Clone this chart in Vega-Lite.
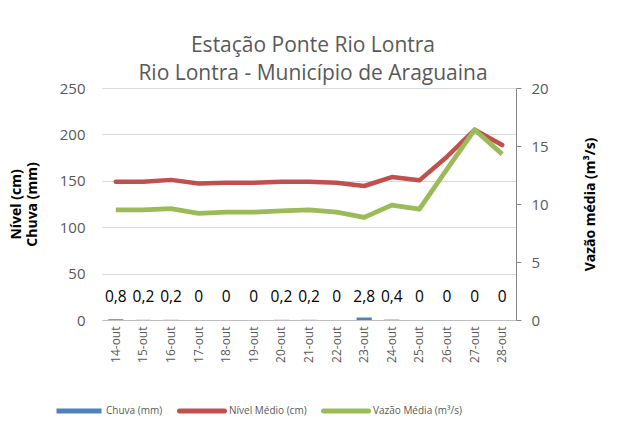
{
  "$schema": "https://vega.github.io/schema/vega-lite/v6.json",
  "width": 414,
  "height": 232,
  "autosize": {"type": "none"},
  "padding": {"left": 102, "top": 88, "right": 103, "bottom": 110},
  "background": "white",
  "config": {
    "font": "Open Sans",
    "view": {"stroke": null},
    "locale": {"number": {"decimal": ",", "thousands": ".", "grouping": [3], "currency": ["R$", ""]}}
  },
  "title": {
    "text": ["Estação Ponte Rio Lontra", "Rio Lontra - Município de Araguaina"],
    "fontSize": 21,
    "fontWeight": "normal",
    "color": "#595959",
    "font": "Open Sans",
    "lineHeight": 28,
    "anchor": "middle",
    "offset": -3,
    "dx": 4
  },
  "data": {
    "values": [
      {"data": "14-out", "chuva": 0.8, "nivel": 149, "vazao": 9.5},
      {"data": "15-out", "chuva": 0.2, "nivel": 149, "vazao": 9.5},
      {"data": "16-out", "chuva": 0.2, "nivel": 151, "vazao": 9.6},
      {"data": "17-out", "chuva": 0, "nivel": 147, "vazao": 9.2},
      {"data": "18-out", "chuva": 0, "nivel": 148, "vazao": 9.3},
      {"data": "19-out", "chuva": 0, "nivel": 148, "vazao": 9.3},
      {"data": "20-out", "chuva": 0.2, "nivel": 149, "vazao": 9.4},
      {"data": "21-out", "chuva": 0.2, "nivel": 149, "vazao": 9.5},
      {"data": "22-out", "chuva": 0, "nivel": 148, "vazao": 9.3},
      {"data": "23-out", "chuva": 2.8, "nivel": 144.4, "vazao": 8.85},
      {"data": "24-out", "chuva": 0.4, "nivel": 154, "vazao": 9.9},
      {"data": "25-out", "chuva": 0, "nivel": 150.5, "vazao": 9.55},
      {"data": "26-out", "chuva": 0, "nivel": 176, "vazao": 13.0},
      {"data": "27-out", "chuva": 0, "nivel": 205, "vazao": 16.4},
      {"data": "28-out", "chuva": 0, "nivel": 188.5, "vazao": 14.3}
    ]
  },
  "encoding": {
    "x": {
      "field": "data",
      "type": "ordinal",
      "sort": null,
      "scale": {"paddingInner": 0, "paddingOuter": 0},
      "axis": {
        "title": null,
        "labelAngle": -90,
        "labelFontSize": 12,
        "labelColor": "#595959",
        "labelPadding": 6,
        "ticks": false,
        "domainColor": "#bfbfbf",
        "grid": false
      }
    }
  },
  "layer": [
    {
      "encoding": {
        "y": {
          "type": "quantitative",
          "scale": {"domain": [0, 250], "nice": false},
          "axis": {
            "values": [0, 50, 100, 150, 200, 250],
            "grid": true,
            "gridColor": "#d9d9d9",
            "domain": false,
            "ticks": false,
            "labelFontSize": 15,
            "labelColor": "#595959",
            "labelPadding": 17,
            "title": ["Nível (cm)", "Chuva (mm)"],
            "titleFontSize": 14,
            "titleFontWeight": "bold",
            "titleColor": "#000000",
            "titlePadding": 20,
            "titleLineHeight": 16
          }
        }
      },
      "layer": [
        {
          "mark": {"type": "bar", "width": {"band": 0.55}},
          "encoding": {
            "y": {"field": "chuva", "type": "quantitative"},
            "color": {
              "datum": "Chuva (mm)",
              "type": "nominal",
              "scale": {
                "domain": ["Chuva (mm)", "Nível Médio (cm)", "Vazão Média (m³/s)"],
                "range": ["#4f81bd", "#c0504d", "#9bbb59"]
              },
              "legend": {
                "orient": "none",
                "legendX": -48,
                "legendY": 298,
                "direction": "horizontal",
                "title": null,
                "symbolType": "stroke",
                "symbolSize": 2025,
                "symbolStrokeWidth": 5,
                "labelFontSize": 10,
                "labelColor": "#595959",
                "labelFont": "Open Sans",
                "columnPadding": 6,
                "labelOffset": 2,
                "encode": {
                  "symbols": {
                    "update": {
                      "stroke": {"scale": "color", "field": "value"},
                      "strokeWidth": {"value": 5},
                      "fill": {"value": "transparent"},
                      "strokeCap": {"signal": "datum.value === 'Chuva (mm)' ? 'butt' : 'round'"}
                    }
                  }
                }
              }
            }
          }
        },
        {
          "mark": {"type": "text", "fontSize": 15.5, "color": "#000000", "baseline": "middle"},
          "encoding": {
            "y": {"datum": 25},
            "text": {"field": "chuva", "type": "quantitative", "format": ".1~f"}
          }
        },
        {
          "mark": {"type": "line", "strokeWidth": 4.5, "strokeCap": "round", "strokeJoin": "round"},
          "encoding": {
            "y": {"field": "nivel", "type": "quantitative"},
            "color": {"datum": "Nível Médio (cm)", "type": "nominal"}
          }
        }
      ]
    },
    {
      "mark": {"type": "line", "strokeWidth": 4.8, "strokeCap": "butt", "strokeJoin": "round"},
      "encoding": {
        "y": {
          "field": "vazao",
          "type": "quantitative",
          "scale": {"domain": [0, 20], "nice": false},
          "axis": {
            "orient": "right",
            "values": [0, 5, 10, 15, 20],
            "grid": false,
            "domain": true,
            "domainColor": "#868686",
            "ticks": true,
            "tickColor": "#868686",
            "tickSize": 5,
            "labelFontSize": 15,
            "labelColor": "#595959",
            "labelPadding": 10,
            "title": "Vazão média (m³/s)",
            "titleAngle": -90,
            "titleFontSize": 14,
            "titleFontWeight": "bold",
            "titleColor": "#000000",
            "titlePadding": 49
          }
        },
        "color": {"datum": "Vazão Média (m³/s)", "type": "nominal"}
      }
    }
  ],
  "resolve": {"scale": {"y": "independent"}}
}
